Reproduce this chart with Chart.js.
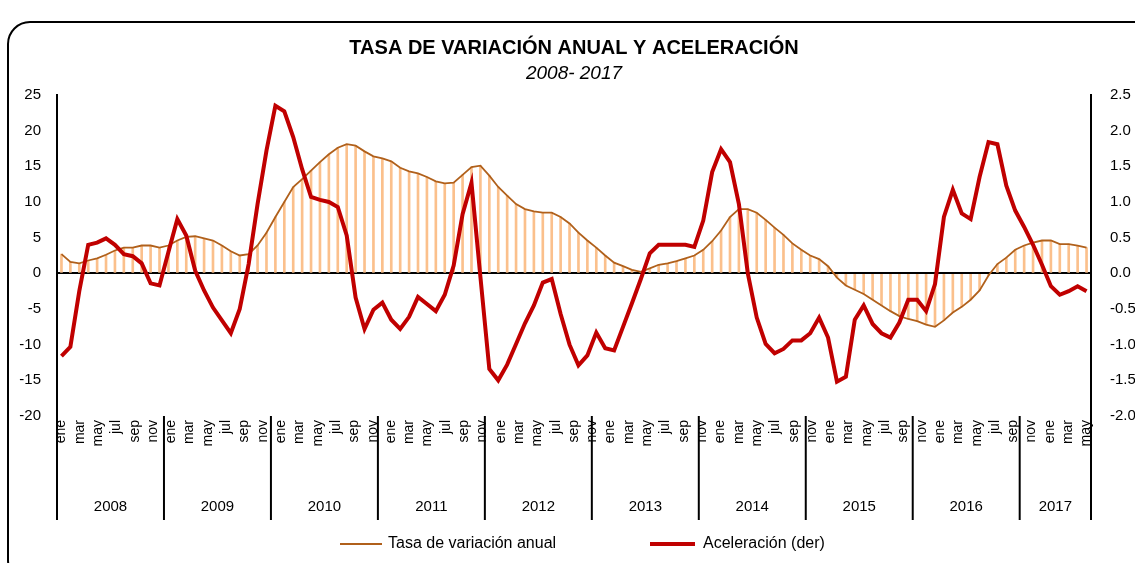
<!DOCTYPE html>
<html>
<head>
<meta charset="utf-8">
<title>Tasa de variación anual y aceleración</title>
<script src="https://cdn.jsdelivr.net/npm/chart.js@4.4.1/dist/chart.umd.min.js"></script>
<style>
  html, body { margin: 0; padding: 0; background: #fff; }
  #chart { display: block; }
</style>
</head>
<body>
<canvas id="chart" width="1135" height="563"></canvas>
<script>
// monthly series, ene 2008 - ago 2017
const years = ["2008", "2009", "2010", "2011", "2012", "2013", "2014", "2015", "2016", "2017"];
const monthNames = ["ene", "feb", "mar", "abr", "may", "jun", "jul", "ago", "sep", "oct", "nov", "dic"];
const monthTicks = ["ene", "mar", "may", "jul", "sep", "nov"];
const leftTicks = [-20, 25, 5];
const rightTicks = [-2, 2.5, 0.5];

// tasa de variación anual (eje izquierdo)
const tasaAnual = [
  2.7, 1.6, 1.4, 1.8, 2.1, 2.6, 3.2, 3.6, 3.6, 3.9, 3.9, 3.6,
  3.9, 4.6, 5.1, 5.2, 4.9, 4.6, 3.9, 3.1, 2.5, 2.7, 3.9, 5.7,
  7.9, 10.0, 12.1, 13.2, 14.4, 15.6, 16.7, 17.6, 18.1, 17.9, 17.1, 16.4,
  16.1, 15.7, 14.8, 14.3, 14.0, 13.5, 12.9, 12.6, 12.7, 13.8, 14.9, 15.1,
  13.7, 12.1, 10.9, 9.7, 9.0, 8.7, 8.5, 8.5, 7.9, 7.0, 5.7, 4.6,
  3.6, 2.5, 1.5, 1.0, 0.5, 0.2, 0.7, 1.2, 1.4, 1.7, 2.1, 2.5,
  3.3, 4.5, 6.0, 7.9, 9.0, 9.0, 8.5, 7.5, 6.4, 5.4, 4.2, 3.3,
  2.5, 2.0, 1.0, -0.6, -1.7, -2.3, -2.9, -3.7, -4.5, -5.3, -6.0, -6.4,
  -6.7, -7.2, -7.5, -6.6, -5.5, -4.7, -3.7, -2.4, -0.3, 1.3, 2.2, 3.3,
  3.9, 4.3, 4.6, 4.6, 4.1, 4.1, 3.9, 3.6
];

// aceleración (eje derecho)
const aceleracion = [
  -1.16, -1.03, -0.25, 0.40, 0.43, 0.49, 0.40, 0.27, 0.24, 0.14, -0.14, -0.17,
  0.30, 0.76, 0.53, 0.04, -0.24, -0.48, -0.66, -0.84, -0.50, 0.13, 0.97, 1.72,
  2.35, 2.27, 1.91, 1.46, 1.07, 1.03, 1.00, 0.93, 0.53, -0.34, -0.78, -0.51,
  -0.41, -0.65, -0.78, -0.61, -0.33, -0.43, -0.53, -0.30, 0.11, 0.83, 1.27, -0.05,
  -1.34, -1.50, -1.28, -0.99, -0.70, -0.45, -0.13, -0.08, -0.57, -1.00, -1.29, -1.15,
  -0.83, -1.05, -1.08, -0.75, -0.42, -0.08, 0.28, 0.40, 0.40, 0.40, 0.40, 0.37,
  0.74, 1.42, 1.74, 1.56, 0.97, 0.00, -0.62, -0.99, -1.12, -1.06, -0.94, -0.94,
  -0.84, -0.62, -0.90, -1.52, -1.45, -0.65, -0.45, -0.71, -0.84, -0.90, -0.69, -0.37,
  -0.37, -0.53, -0.15, 0.79, 1.17, 0.84, 0.76, 1.35, 1.84, 1.81, 1.23, 0.88,
  0.65, 0.40, 0.12, -0.18, -0.30, -0.25, -0.18, -0.25
];

const labels = tasaAnual.map((v, i) => monthNames[i % 12] + " " + years[Math.floor(i / 12)]);

// the source prints 57 bimonthly labels spread evenly over the axis,
// so they slowly drift away from the year groups
const nMonthLabels = 57;

const FONT = '"Liberation Sans", Arial, sans-serif';
Chart.defaults.font.family = FONT;
Chart.defaults.color = "#000";

const decorations = {
  id: "decorations",
  afterDraw(chart) {
    const { ctx, chartArea, scales } = chart;
    const x = scales.x;
    const mid = (chartArea.left + chartArea.right) / 2;
    ctx.save();
    ctx.fillStyle = "#000";
    ctx.textAlign = "center";
    ctx.textBaseline = "middle";
    ctx.font = "bold 20px " + FONT;
    ctx.fillText("TASA DE VARIACIÓN ANUAL Y ACELERACIÓN", mid, 48);
    ctx.font = "italic 19px " + FONT;
    ctx.fillText("2008- 2017", mid, 74);

    // month labels, rotated
    const first = x.getPixelForValue(0);
    const last = x.getPixelForValue(labels.length - 1);
    ctx.font = "14px " + FONT;
    ctx.textAlign = "right";
    for (let k = 0; k < nMonthLabels; k++) {
      const px = first + k * (last - first) / (nMonthLabels - 1);
      ctx.save();
      ctx.translate(px, chartArea.bottom + 4);
      ctx.rotate(-Math.PI / 2);
      ctx.fillText(monthTicks[k % 6], 0, 0);
      ctx.restore();
    }

    // year groups under the month labels
    ctx.textAlign = "center";
    ctx.strokeStyle = "#000";
    ctx.lineWidth = 2;
    const edges = [];
    for (let k = 0; k <= years.length; k++) {
      let px;
      if (k === 0) px = chartArea.left;
      else if (k === years.length) px = chartArea.right;
      else px = (x.getPixelForValue(12 * k - 1) + x.getPixelForValue(12 * k)) / 2;
      edges.push(px);
      ctx.beginPath();
      ctx.moveTo(px, chartArea.bottom);
      ctx.lineTo(px, 520);
      ctx.stroke();
    }
    ctx.font = "15px " + FONT;
    years.forEach((y, k) => ctx.fillText(y, (edges[k] + edges[k + 1]) / 2, 507));

    // legend
    ctx.textAlign = "left";
    ctx.font = "16px " + FONT;
    ctx.strokeStyle = "#B0601B";
    ctx.lineWidth = 2;
    ctx.beginPath(); ctx.moveTo(340, 544); ctx.lineTo(382, 544); ctx.stroke();
    ctx.fillText("Tasa de variación anual", 388, 544);
    ctx.strokeStyle = "#C00000";
    ctx.lineWidth = 4;
    ctx.beginPath(); ctx.moveTo(650, 544); ctx.lineTo(695, 544); ctx.stroke();
    ctx.fillText("Aceleración (der)", 703, 544);

    // frame
    ctx.strokeStyle = "#000";
    ctx.lineWidth = 2;
    ctx.beginPath();
    ctx.roundRect(8, 22, 1160, 560, 22);
    ctx.stroke();
    ctx.restore();
  }
};

new Chart(document.getElementById("chart"), {
  data: {
    labels: labels,
    datasets: [
      {
        type: "line",
        label: "Aceleración (der)",
        data: aceleracion,
        yAxisID: "y1",
        borderColor: "#C00000",
        borderWidth: 4,
        pointRadius: 0,
        tension: 0,
        order: 0
      },
      {
        type: "line",
        label: "Tasa de variación anual",
        data: tasaAnual,
        yAxisID: "y",
        borderColor: "#B0601B",
        borderWidth: 1.8,
        pointRadius: 0,
        tension: 0,
        order: 1
      },
      {
        type: "bar",
        label: "barras",
        data: tasaAnual,
        yAxisID: "y",
        backgroundColor: "#FBC08C",
        barThickness: 2,
        order: 2
      }
    ]
  },
  options: {
    responsive: false,
    animation: false,
    devicePixelRatio: 1,
    layout: { padding: { top: 95, left: 0, right: 0, bottom: 0 } },
    plugins: {
      legend: { display: false },
      title: { display: false },
      tooltip: { enabled: false }
    },
    scales: {
      x: {
        grid: { display: false },
        border: { display: false },
        ticks: { display: false },
        afterFit: (scale) => { scale.height = 147; }
      },
      y: {
        position: "left",
        min: leftTicks[0],
        max: leftTicks[1],
        ticks: { stepSize: leftTicks[2], padding: 16, font: { size: 15 } },
        grid: {
          drawTicks: false,
          color: (c) => (c.tick && c.tick.value === 0 ? "#000" : "rgba(0,0,0,0)"),
          lineWidth: 2
        },
        border: { display: true, color: "#000", width: 2 },
        afterFit: (scale) => { scale.width = 57; }
      },
      y1: {
        position: "right",
        min: rightTicks[0],
        max: rightTicks[1],
        ticks: {
          stepSize: rightTicks[2],
          padding: 19,
          font: { size: 15 },
          callback: (v) => v.toFixed(1)
        },
        grid: { drawOnChartArea: false, drawTicks: false },
        border: { display: true, color: "#000", width: 2 },
        afterFit: (scale) => { scale.width = 44; }
      }
    }
  },
  plugins: [decorations]
});
</script>
</body>
</html>
